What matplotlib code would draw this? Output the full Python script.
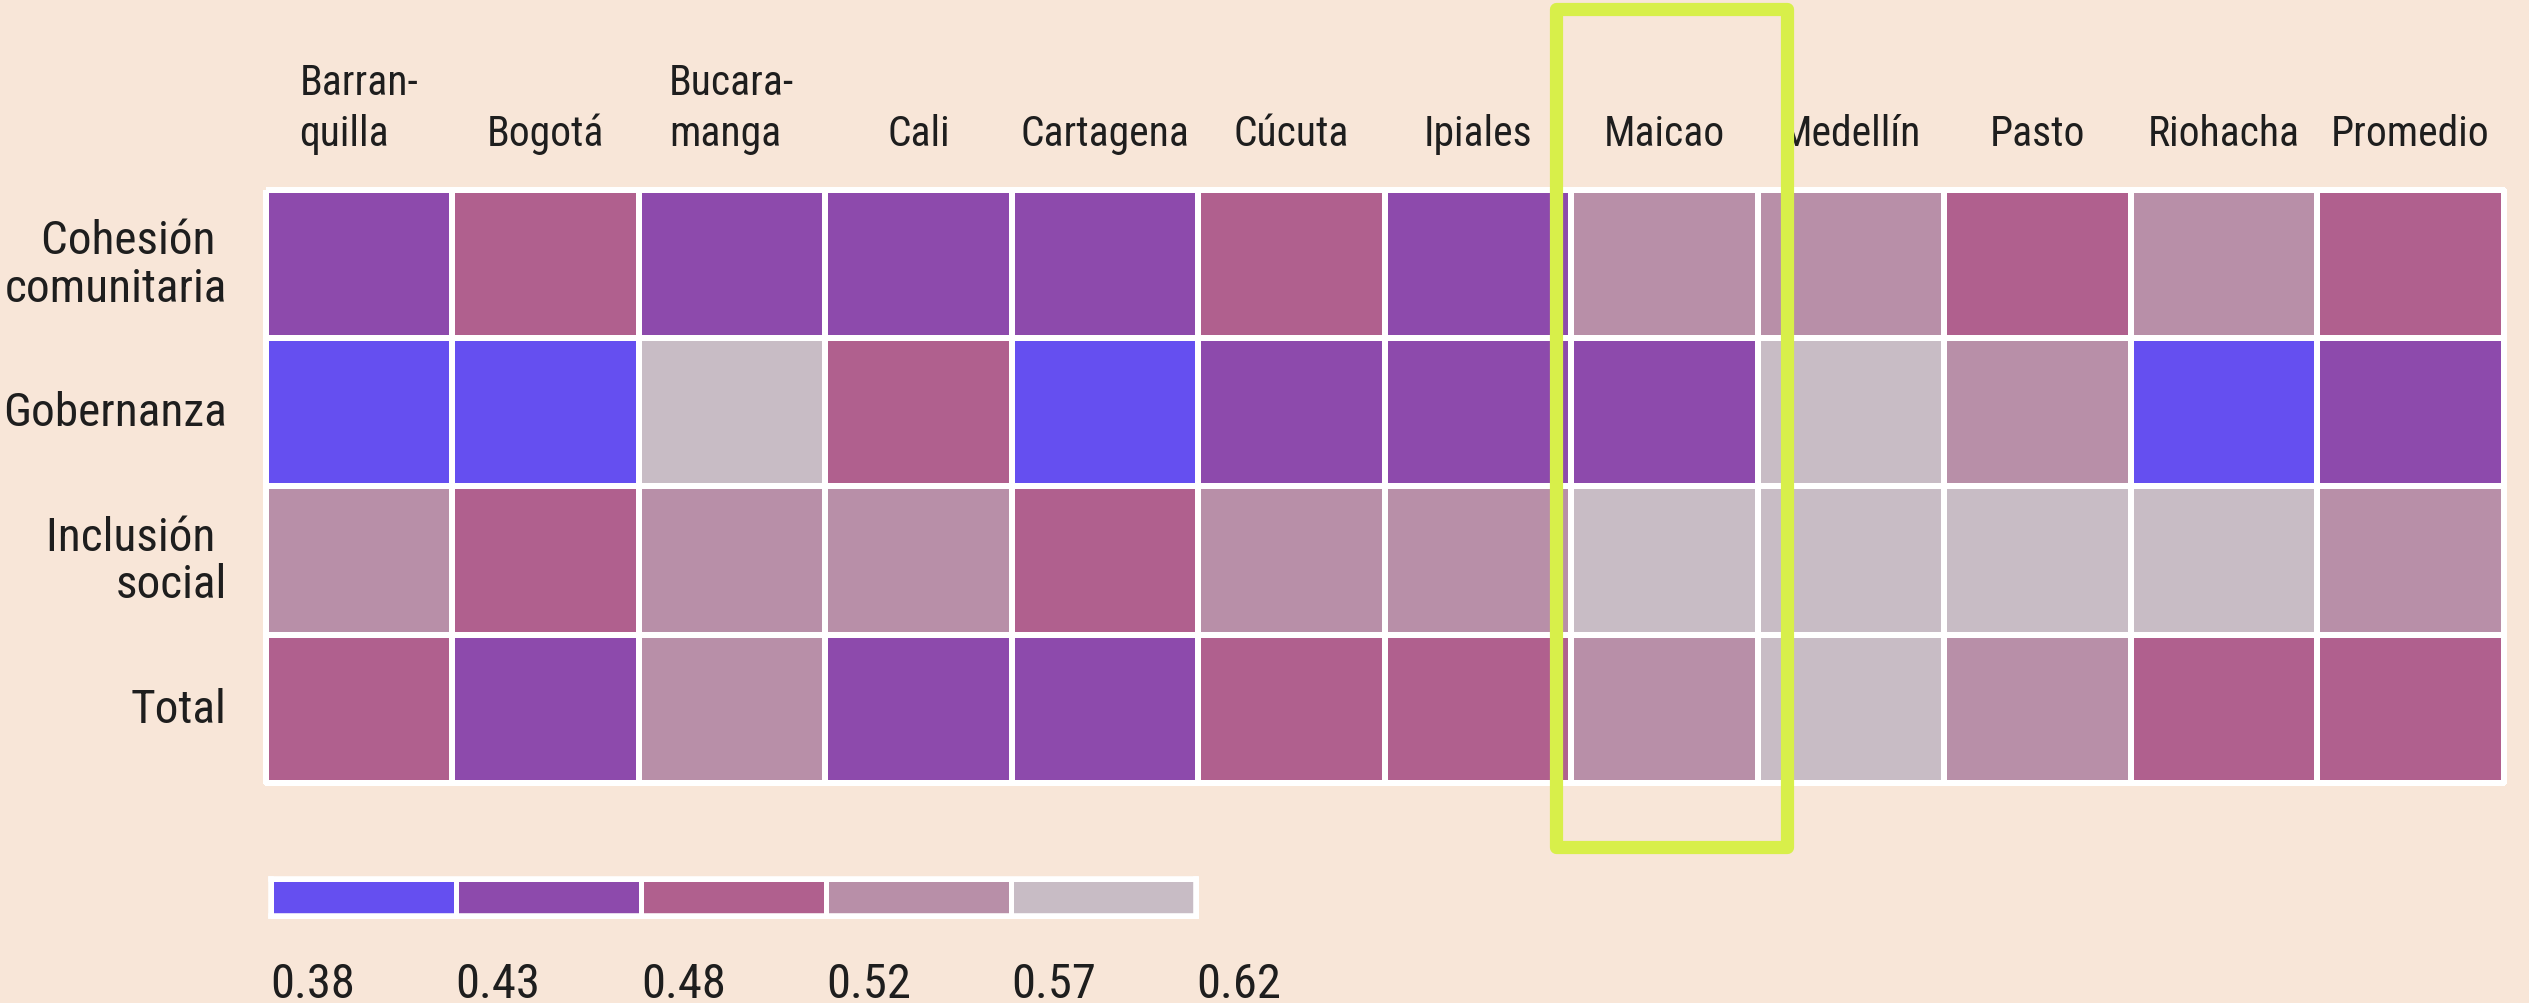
import numpy as np
import matplotlib
matplotlib.use("Agg")
import matplotlib.pyplot as plt
import matplotlib.transforms as mtransforms
from matplotlib import font_manager
from matplotlib.colors import ListedColormap, BoundaryNorm
from matplotlib.patches import Rectangle

# datos
ciudades = ["Barran-\nquilla", "Bogotá", "Bucara-\nmanga", "Cali", "Cartagena", "Cúcuta",
            "Ipiales", "Maicao", "Medellín", "Pasto", "Riohacha", "Promedio"]
dimensiones = ["Cohesión \ncomunitaria", "Gobernanza", "Inclusión \nsocial", "Total"]

cohesion = [0.45, 0.50, 0.46, 0.45, 0.45, 0.50, 0.46, 0.54, 0.54, 0.50, 0.55, 0.49]
gobernanza = [0.40, 0.41, 0.59, 0.49, 0.41, 0.45, 0.46, 0.45, 0.58, 0.54, 0.40, 0.46]
inclusion = [0.54, 0.50, 0.54, 0.55, 0.50, 0.54, 0.53, 0.59, 0.59, 0.58, 0.59, 0.54]
total = [0.50, 0.47, 0.54, 0.46, 0.46, 0.50, 0.50, 0.55, 0.58, 0.54, 0.50, 0.50]

cortes = [0.38, 0.43, 0.48, 0.52, 0.57, 0.62]
colores = ["#654ff0", "#8d4aac", "#b0608e", "#b88fa8", "#c8bcc5"]
resaltado = "Maicao"

# buscar una fuente condensada instalada
estrechas = []
for f in font_manager.fontManager.ttflist:
    nombre = f.name + " " + f.fname
    if f.style != "normal" or f.weight not in (400, "normal", "regular"):
        continue
    if ("Condensed" in nombre or "Narrow" in nombre
            or f.stretch in ("condensed", "semi-condensed", "extra-condensed")):
        estrechas.append(f)
orden = ["Roboto", "Open Sans", "Noto Sans", "Liberation", "Lato", "DejaVu"]
estrechas.sort(key=lambda f: next((i for i, o in enumerate(orden) if o in f.name), 99))

if estrechas:
    fp = font_manager.FontProperties(fname=estrechas[0].fname)
    k = 1.0
else:
    fp = font_manager.FontProperties(family="Roboto")
    k = 0.78

fondo = "#f8e6d8"
tinta = "#1e1e1e"
fig = plt.figure(figsize=(25.29, 10.04), dpi=100, facecolor=fondo)

Z = np.array([cohesion, gobernanza, inclusion, total])
cmap = ListedColormap(colores)
norm = BoundaryNorm(cortes, cmap.N)

ax = fig.add_axes([0.105, 0.219, 0.885, 0.591])
ax.set_facecolor("none")
mesh = ax.pcolormesh(Z, cmap=cmap, norm=norm, edgecolors="white", linewidth=3.2)
mesh.set_clip_on(False)
ax.set_xlim(0, len(ciudades))
ax.set_ylim(len(dimensiones), 0)
ax.set_xticks([])
ax.set_yticks([])
for s in ax.spines.values():
    s.set_visible(False)

for i, c in enumerate(ciudades):
    ax.annotate(c, xy=(i + 0.5, 1), xycoords=("data", "axes fraction"),
                xytext=(0, 26), textcoords="offset points",
                ha="center", va="bottom", multialignment="left",
                fontproperties=fp, fontsize=30 * k, linespacing=1.3, color=tinta)

for j, d in enumerate(dimensiones):
    ax.annotate(d, xy=(0, j + 0.5), xycoords="data",
                xytext=(-28, 0), textcoords="offset points",
                ha="right", va="center", multialignment="right",
                fontproperties=fp, fontsize=34 * k, linespacing=1.1, color=tinta)

# marco resaltado
ic = ciudades.index(resaltado)
ax.add_patch(Rectangle((ic - 0.08, len(dimensiones) + 0.43), 1.24, -5.65,
                       fill=False, edgecolor="#d8ef4a", linewidth=9.5,
                       joinstyle="round", clip_on=False, zorder=5))

# leyenda
lax = fig.add_axes([0.107, 0.087, 0.366, 0.037])
lax.set_facecolor("white")
lm = lax.pcolormesh(np.array([cortes[:-1]]) + 0.001, cmap=cmap, norm=norm,
                    edgecolors="white", linewidth=3.5)
lm.set_clip_on(False)
lax.set_xlim(0, len(colores))
lax.set_ylim(0, 1)
lax.set_yticks([])
lax.set_xticks(range(len(cortes)))
lax.set_xticklabels([f"{v:.2f}" for v in cortes], ha="left", fontproperties=fp,
                    fontsize=35 * k, color=tinta)
despl = mtransforms.ScaledTranslation(8 / 100, 0, fig.dpi_scale_trans)
for t in lax.get_xticklabels():
    t.set_transform(t.get_transform() + despl)
lax.tick_params(axis="x", length=0, pad=33)
for s in lax.spines.values():
    s.set_edgecolor("white")
    s.set_linewidth(4)

fig.savefig("out.png", dpi=100, facecolor=fondo)
